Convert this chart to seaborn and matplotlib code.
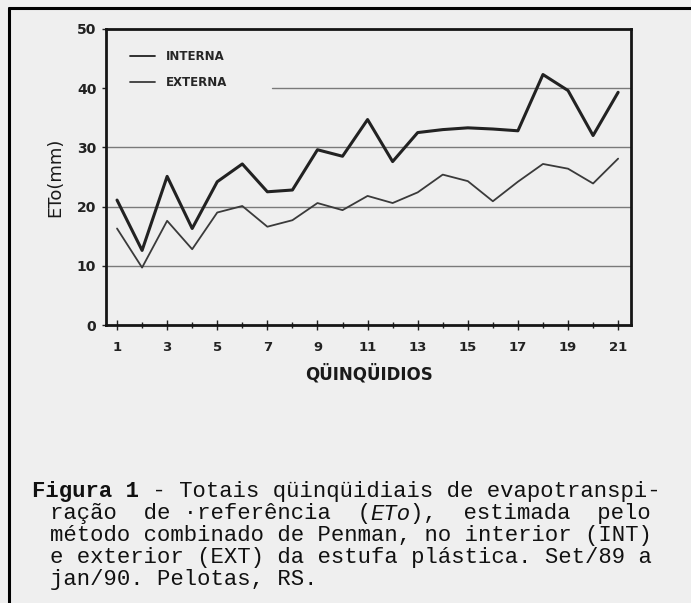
import pandas as pd
import matplotlib
matplotlib.use("Agg")
import matplotlib.pyplot as plt
from matplotlib.lines import Line2D
from matplotlib.ticker import MultipleLocator
import seaborn as sns

# values (ETo, mm per 5-day period)
quinquidios = list(range(1, 22))
interna = [21.1, 12.6, 25.1, 16.3, 24.2, 27.2, 22.5, 22.8, 29.6, 28.5, 34.7,
           27.6, 32.5, 33.0, 33.3, 33.1, 32.8, 42.3, 39.6, 32.0, 39.3]
externa = [16.3, 9.7, 17.6, 12.8, 19.0, 20.1, 16.6, 17.7, 20.6, 19.4, 21.8,
           20.6, 22.4, 25.4, 24.3, 20.9, 24.2, 27.2, 26.4, 23.9, 28.1]
series_names = ["INTERNA", "EXTERNA"]
y_ticks = [0, 10, 20, 30, 40, 50]
x_labels = [1, 3, 5, 7, 9, 11, 13, 15, 17, 19, 21]

caption = [
    "ração  de ·referência  (",
    "método combinado de Penman, no interior (INT)",
    "e exterior (EXT) da estufa plástica. Set/89 a",
    "jan/90. Pelotas, RS.",
]

df = pd.DataFrame({
    "q": quinquidios * 2,
    "eto": interna + externa,
    "serie": [series_names[0]] * len(interna) + [series_names[1]] * len(externa),
})

sns.set_style("ticks")
plt.rcParams["font.family"] = ["DejaVu Sans"]
bg = "#efefef"

fig = plt.figure(figsize=(6.91, 6.03), dpi=100, facecolor=bg)
ax = fig.add_axes([0.1534, 0.461, 0.760, 0.491], facecolor=bg)

# grid lines as in the original (40 only partly, legend sits there)
for v in [10, 20, 30]:
    ax.axhline(v, color="#7a7a7a", lw=1.0, zorder=1)
ax.axhline(40, xmin=0.316, xmax=1, color="#7a7a7a", lw=1.0, zorder=1)

sns.lineplot(data=df, x="q", y="eto", hue="serie", size="serie",
             sizes={"INTERNA": 2.2, "EXTERNA": 1.3},
             palette={"INTERNA": "#222222", "EXTERNA": "#3a3a3a"},
             legend=False, ax=ax, zorder=3)

ax.set_xlim(0.56, 21.52)
ax.set_ylim(0, 50)
ax.set_yticks(y_ticks)
ax.set_xticks(x_labels)
ax.xaxis.set_minor_locator(MultipleLocator(1))
ax.tick_params(axis="x", which="both", direction="inout", length=7, width=1,
               pad=8, labelsize=9.5, colors="#222222")
ax.tick_params(axis="x", which="minor", length=4)
ax.tick_params(axis="y", direction="out", length=3, width=1, pad=4,
               labelsize=10, colors="#222222")
for lab in ax.get_xticklabels() + ax.get_yticklabels():
    lab.set_fontweight("bold")
for sp in ax.spines.values():
    sp.set_linewidth(2.0)
    sp.set_color("#151515")

ax.set_xlabel("QÜINQÜIDIOS", fontsize=12, fontweight="bold", labelpad=7,
              color="#1a1a1a")
ax.set_ylabel("ETo(mm)", fontsize=13, labelpad=9, color="#1a1a1a")

handles = [Line2D([], [], color="#222222", lw=1.3),
           Line2D([], [], color="#3a3a3a", lw=1.3)]
ax.legend(handles, series_names, loc="upper left", frameon=False,
          bbox_to_anchor=(0.025, 0.965), handlelength=2.1, handletextpad=1.0,
          labelspacing=1.1, prop={"size": 8.5, "weight": "bold"})

# frame lines of the scanned page (top and left)
fig.add_artist(Line2D([9 / 691, 9 / 691], [0, 1 - 8 / 603], color="black",
                      lw=2.2, transform=fig.transFigure))
fig.add_artist(Line2D([9 / 691, 1], [1 - 8 / 603, 1 - 8 / 603], color="black",
                      lw=2.2, transform=fig.transFigure))

# caption in typewriter font
mono = ["Liberation Mono", "DejaVu Sans Mono"]
fs = 16
cw = fs * 100 / 72 * 0.6 / 691
y0 = 1 - 492 / 603
dy = 22 / 603
fig.text(32 / 691, y0, "Figura 1", family=mono, fontsize=fs, fontweight="bold",
         va="center", color="#111111")
fig.text(32 / 691 + 8 * cw, y0, " - Totais qüinqüidiais de evapotranspi-",
         family=mono, fontsize=fs, va="center", color="#111111")
x1 = 50 / 691
fig.text(x1, y0 - dy, caption[0], family=mono, fontsize=fs, va="center",
         color="#111111")
fig.text(x1 + len(caption[0]) * cw, y0 - dy, "ETo", family=mono, fontsize=fs,
         style="italic", va="center", color="#111111")
fig.text(x1 + (len(caption[0]) + 3) * cw, y0 - dy, "),  estimada  pelo",
         family=mono, fontsize=fs, va="center", color="#111111")
for i, line in enumerate(caption[1:]):
    fig.text(x1, y0 - dy * (i + 2), line, family=mono, fontsize=fs,
             va="center", color="#111111")

fig.savefig("out.png", dpi=100, facecolor=bg)
